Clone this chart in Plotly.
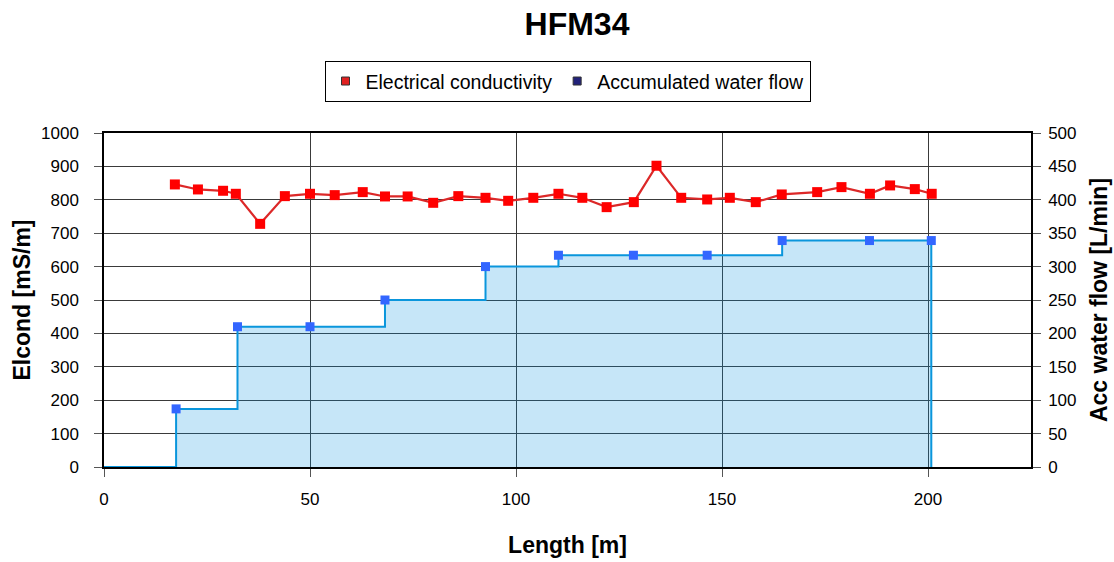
import plotly.graph_objects as go

# Electrical conductivity (left axis)
ec_length = [17.2, 22.8, 28.9, 32.0, 37.9, 43.9, 50.0, 56.0, 62.8, 68.2, 73.7, 79.9,
             86.0, 92.6, 98.1, 104.2, 110.3, 116.1, 122.0, 128.6, 134.1, 140.1, 146.4,
             151.9, 158.2, 164.5, 173.1, 179.0, 185.9, 190.8, 196.8, 200.9]
ec_value = [846, 831, 827, 818, 728, 811, 818, 814, 823, 810, 810, 791,
            811, 806, 797, 806, 818, 806, 778, 793, 902, 806, 801,
            806, 793, 816, 823, 838, 818, 843, 832, 818]

# Accumulated water flow (right axis)
flow_length = [17.5, 32.4, 50.0, 68.2, 92.6, 110.3, 128.5, 146.4, 164.6, 185.8, 200.8]
flow_value = [87, 210, 210, 250, 300, 317, 317, 317, 339, 339, 339]

title_text = "HFM34"
x_title = "Length [m]"
y1_title = "Elcond [mS/m]"
y2_title = "Acc water flow [L/min]"
ec_name = "Electrical conductivity"
flow_name = "Accumulated water flow"

FONT = "Arial, Liberation Sans, sans-serif"

fig = go.Figure()

# step area for water flow (starts at 0 from length 0, drops to 0 after last point)
step_x = [0] + flow_length + [flow_length[-1]]
step_y = [0] + flow_value + [0]
fig.add_trace(go.Scatter(
    x=step_x, y=step_y, yaxis="y2", mode="lines", line_shape="hv",
    line=dict(color="#0a96dc", width=2),
    fill="tozeroy", fillcolor="rgba(0,143,224,0.2235)",
    showlegend=False, hoverinfo="skip"))
fig.add_trace(go.Scatter(
    x=flow_length, y=flow_value, yaxis="y2", mode="markers",
    marker=dict(symbol="square", size=9, color="#3366ff"),
    showlegend=False, name=flow_name))

# conductivity
fig.add_trace(go.Scatter(
    x=ec_length, y=ec_value, mode="lines+markers",
    line=dict(color="#dc2828", width=2.2),
    marker=dict(symbol="square", size=10, color="#ff0000"),
    showlegend=False, name=ec_name))

# legend-only entries
fig.add_trace(go.Scatter(
    x=[None], y=[None], mode="markers", name=ec_name,
    marker=dict(symbol="square", size=8, color="#e02020", line=dict(color="#333", width=1))))
fig.add_trace(go.Scatter(
    x=[None], y=[None], mode="markers", name=flow_name,
    marker=dict(symbol="square", size=8, color="#22227a", line=dict(color="#333", width=1))))

axis_font = dict(family=FONT, size=17, color="black")
title_font = dict(family=FONT, size=23, color="black", weight="bold")

fig.update_layout(
    width=1114, height=562,
    margin=dict(l=104, r=83, t=133, b=95, autoexpand=False),
    paper_bgcolor="white", plot_bgcolor="white",
    font=dict(family=FONT, color="black"),
    title=dict(text=title_text, x=577 / 1114, xanchor="center", y=1 - 24 / 562, yanchor="middle",
               font=dict(family=FONT, size=32, color="black", weight="bold")),
    legend=dict(orientation="h", x=0.5, xanchor="center", y=1.216, yanchor="top",
                bordercolor="black", borderwidth=1, bgcolor="white",
                font=dict(family=FONT, size=19.5, color="black"),
                itemwidth=30, tracegroupgap=0),
    xaxis=dict(range=[0, 225], dtick=50, tick0=0, showgrid=True, gridcolor="#3a3a3a", gridwidth=1,
               showline=True, linecolor="black", linewidth=1.5, mirror=True, automargin=False,
               ticks="outside", ticklen=8, tickcolor="#555", tickfont=axis_font,
               ticklabelstandoff=8, zeroline=False,
               title=dict(text=x_title, font=title_font, standoff=29)),
    yaxis=dict(range=[0, 1000], dtick=100, tick0=0, showgrid=True, gridcolor="#3a3a3a", gridwidth=1,
               showline=True, linecolor="black", linewidth=1.5, automargin=False,
               ticks="outside", ticklen=8, tickcolor="#555", tickfont=axis_font,
               ticklabelstandoff=12, zeroline=False,
               title=dict(text=y1_title, font=title_font, standoff=4)),
    yaxis2=dict(range=[0, 500], dtick=50, tick0=0, overlaying="y", side="right", showgrid=False,
                showline=True, linecolor="black", linewidth=1.5, automargin=False,
                ticks="outside", ticklen=8, tickcolor="#555", tickfont=axis_font,
                ticklabelstandoff=4, zeroline=False,
                title=dict(text=y2_title, font=title_font, standoff=15)),
)

fig.write_html("out.html")
